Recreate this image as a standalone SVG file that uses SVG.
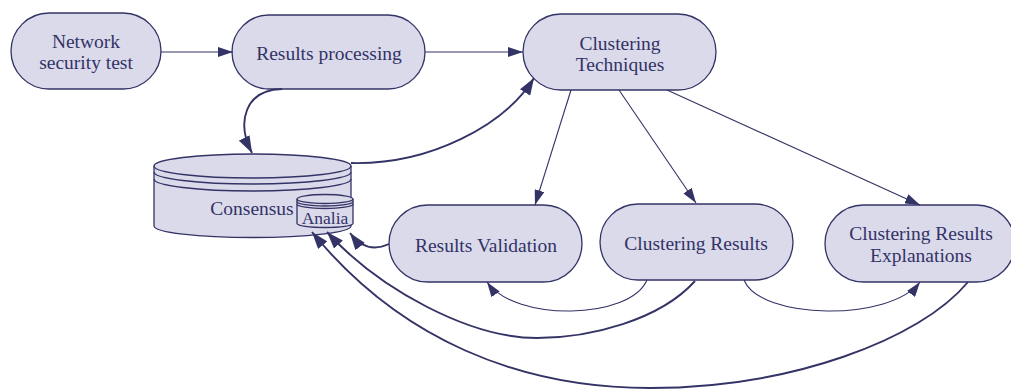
<svg xmlns="http://www.w3.org/2000/svg" width="1011" height="389" viewBox="0 0 1011 389">
  <style>
    .node { fill: #dadaeb; stroke: #333366; stroke-width: 1.3; }
    .line { fill: none; stroke: #333366; stroke-width: 1.3; }
    .label { font-family: "Liberation Serif", "Times New Roman", serif; font-size: 19.5px; fill: #333366; text-anchor: middle; }
    .small { font-size: 17.5px; }
    .edge { fill: none; stroke: #333366; stroke-width: 1.1; }
    .bold { stroke-width: 1.9; }
  </style>
  <defs>
    <marker id="arrow" viewBox="0 0 15 10" refX="15" refY="5" markerWidth="15" markerHeight="10" markerUnits="userSpaceOnUse" orient="auto">
      <path d="M0,0 L15,5 L0,10 Z" fill="#333366"/>
    </marker>
    <marker id="arrow-bold" viewBox="0 0 17 12" refX="17" refY="6" markerWidth="17" markerHeight="12" markerUnits="userSpaceOnUse" orient="auto">
      <path d="M0,0 L17,6 L0,12 Z" fill="#333366"/>
    </marker>
  </defs>

  <!-- process nodes -->
  <g id="network-security-test">
    <rect class="node" x="11" y="13" width="150" height="76" rx="38" ry="38"/>
    <text class="label" x="86" y="48">Network</text>
    <text class="label" x="86" y="69">security test</text>
  </g>
  <g id="results-processing">
    <rect class="node" x="232" y="15" width="193" height="74" rx="37" ry="37"/>
    <text class="label" x="329" y="60">Results processing</text>
  </g>
  <g id="clustering-techniques">
    <rect class="node" x="523" y="14" width="193" height="76" rx="38" ry="38"/>
    <text class="label" x="620" y="50">Clustering</text>
    <text class="label" x="620" y="71">Techniques</text>
  </g>
  <g id="results-validation">
    <rect class="node" x="389" y="205" width="193" height="77" rx="38.5" ry="38.5"/>
    <text class="label" x="486" y="252">Results Validation</text>
  </g>
  <g id="clustering-results">
    <rect class="node" x="600" y="204" width="193" height="76" rx="38" ry="38"/>
    <text class="label" x="696" y="250">Clustering Results</text>
  </g>
  <g id="clustering-results-explanations">
    <rect class="node" x="825" y="205" width="190" height="77" rx="38.5" ry="38.5"/>
    <text class="label" x="921" y="240">Clustering Results</text>
    <text class="label" x="921" y="262">Explanations</text>
  </g>

  <!-- storage -->
  <g id="consensus">
    <path class="node" d="M154,166 A98.5,12 0 0 1 351,166 L351,226 A98.5,11.5 0 0 1 154,226 Z"/>
    <path class="line" d="M154,166 A98.5,12 0 0 0 351,166 M154,172 A98.5,12 0 0 0 351,172 M154,179 A98.5,12 0 0 0 351,179"/>
    <text class="label" x="252" y="215">Consensus</text>
  </g>
  <g id="analia">
    <path class="node" d="M297,199 A28,4.5 0 0 1 353,199 L353,223.5 A28,4 0 0 1 297,223.5 Z"/>
    <path class="line" d="M297,199 A28,4.5 0 0 0 353,199 M297,201.5 A28,4.5 0 0 0 353,201.5 M297,204 A28,4.5 0 0 0 353,204"/>
    <text class="label small" x="325" y="224">Analia</text>
  </g>

  <!-- connectors -->
  <g id="connectors">
    <path class="edge" d="M161,52 L233,52" marker-end="url(#arrow)"/>
    <path class="edge" d="M425,52 L523,52" marker-end="url(#arrow)"/>
    <path class="edge bold" d="M282,89 C245,90 236,122 252,153" marker-end="url(#arrow-bold)"/>
    <path class="edge bold" d="M351,163 C430,165 505,125 534,78" marker-end="url(#arrow-bold)"/>
    <path class="edge" d="M571,90 L535,205" marker-end="url(#arrow)"/>
    <path class="edge" d="M619,90 L696,203" marker-end="url(#arrow)"/>
    <path class="edge" d="M667,90 L920,205" marker-end="url(#arrow)"/>
    <path class="edge bold" d="M389,244 C376,250 362,249 350,233" marker-end="url(#arrow-bold)"/>
    <path class="edge" d="M647,280 C630,320 515,322 487,282" marker-end="url(#arrow)"/>
    <path class="edge" d="M744,280 C760,320 890,322 920,282" marker-end="url(#arrow)"/>
    <path class="edge bold" d="M695,281 C660,320 590,338 537,338 C470,338 380,290 327,232" marker-end="url(#arrow-bold)"/>
    <path class="edge bold" d="M968,282 C920,340 790,388 650,388 C520,388 400,340 312,232" marker-end="url(#arrow-bold)"/>
  </g>
</svg>
